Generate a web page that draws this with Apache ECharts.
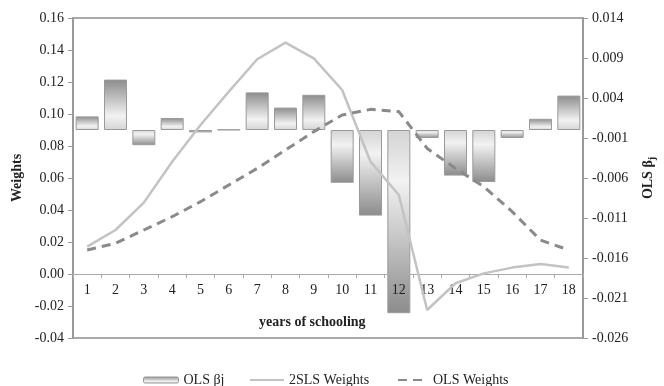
<!DOCTYPE html>
<html>
<head>
<meta charset="utf-8">
<script src="https://cdn.jsdelivr.net/npm/echarts@6/dist/echarts.min.js"></script>
<style>html,body{margin:0;padding:0;background:#fff}#c{width:664px;height:386px}</style>
</head>
<body>
<div id="c"></div>
<script>
var categories = ['1','2','3','4','5','6','7','8','9','10','11','12','13','14','15','16','17','18'];
var olsBeta = [0.0017, 0.0063, -0.0019, 0.0015, -0.0003, 0.00005, 0.0047, 0.0028, 0.0044, -0.0066, -0.0107, -0.0229, -0.0010, -0.0057, -0.0065, -0.0010, 0.0014, 0.0043];
var sls2Weights = [0.0171, 0.0275, 0.0446, 0.0702, 0.0931, 0.114, 0.1342, 0.1446, 0.1348, 0.115, 0.0702, 0.0494, -0.0225, -0.0058, 0.0004, 0.004, 0.0062, 0.004];
var olsWeights = [0.015, 0.0192, 0.0275, 0.0358, 0.0452, 0.0556, 0.066, 0.0775, 0.089, 0.0994, 0.1029, 0.1015, 0.0785, 0.066, 0.0546, 0.039, 0.0212, 0.015];
var leftTicks = {min: -0.04, max: 0.16, interval: 0.02};
var rightTicks = {min: -0.026, max: 0.014, interval: 0.005};

var FONT = 'Liberation Serif';
var chart = echarts.init(document.getElementById('c'), null, {renderer: 'canvas'});

var barData = olsBeta.map(function (v) {
  var pos = v >= 0;
  return {
    value: v,
    itemStyle: {
      color: new echarts.graphic.LinearGradient(0, 0, 0, 1, pos ? [
        {offset: 0, color: '#8c8c8c'},
        {offset: 0.72, color: '#f2f2f2'},
        {offset: 1, color: '#d4d4d4'}
      ] : [
        {offset: 0, color: '#d4d4d4'},
        {offset: 0.28, color: '#f2f2f2'},
        {offset: 1, color: '#8c8c8c'}
      ])
    }
  };
});

var legendText = {fontFamily: FONT, fontSize: 14, color: '#222'};
var noSymbol = {color: 'rgba(0,0,0,0)', borderColor: 'rgba(0,0,0,0)', borderWidth: 0};

chart.setOption({
  animation: false,
  backgroundColor: '#fff',
  grid: {left: 73, right: 81, top: 18, bottom: 48, show: true, borderColor: '#555', borderWidth: 1, outerBoundsMode: 'none', containLabel: false},
  legend: [
    {data: ['OLS βj'], left: 143, top: 373, padding: 0, itemWidth: 35, itemHeight: 6, itemGap: 4, textStyle: legendText,
     itemStyle: {color: new echarts.graphic.LinearGradient(0, 0, 0, 1, [{offset: 0, color: '#8c8c8c'}, {offset: 0.7, color: '#f2f2f2'}, {offset: 1, color: '#d4d4d4'}]), borderColor: '#999', borderWidth: 1}},
    {data: ['2SLS Weights'], left: 249, top: 373, padding: 0, itemWidth: 34, itemHeight: 14, itemGap: 2, textStyle: legendText, itemStyle: noSymbol},
    {data: ['OLS Weights'], left: 397, top: 373, padding: 0, itemWidth: 30, itemHeight: 14, itemGap: 6, textStyle: legendText, itemStyle: noSymbol}
  ],
  graphic: [
    {type: 'text', left: 259, top: 315, style: {text: 'years of schooling', fontFamily: FONT, fontSize: 14, fontWeight: 'bold', fill: '#222'}}
  ],
  xAxis: {
    type: 'category',
    data: categories,
    position: 'bottom',
    offset: -64,
    z: 3,
    axisLine: {onZero: false, lineStyle: {color: '#aaa', width: 1}},
    axisTick: {show: true, length: 4, lineStyle: {color: '#aaa'}},
    axisLabel: {fontFamily: FONT, fontSize: 14, color: '#222', margin: 9}
  },
  yAxis: [
    {
      type: 'value',
      min: leftTicks.min, max: leftTicks.max, interval: leftTicks.interval,
      name: 'Weights', nameLocation: 'middle', nameGap: 45, nameRotate: 90,
      nameTextStyle: {fontFamily: FONT, fontSize: 14, fontWeight: 'bold', color: '#222'},
      axisLine: {show: true, lineStyle: {color: '#999', width: 2}},
      axisTick: {show: true, length: 5, lineStyle: {color: '#999'}},
      axisLabel: {fontFamily: FONT, fontSize: 14, color: '#222', margin: 9, formatter: function (v) { return v.toFixed(2); }},
      splitLine: {show: false}
    },
    {
      type: 'value',
      position: 'right',
      min: rightTicks.min, max: rightTicks.max, interval: rightTicks.interval,
      name: 'OLS β{j|j}', nameLocation: 'middle', nameGap: 56, nameRotate: 90,
      nameTextStyle: {fontFamily: FONT, fontSize: 14, fontWeight: 'bold', color: '#222',
        rich: {j: {fontFamily: FONT, fontSize: 10, fontWeight: 'bold', color: '#222', padding: [8, 0, 0, 0]}}},
      axisLine: {show: true, lineStyle: {color: '#999', width: 2}},
      axisTick: {show: true, length: 5, lineStyle: {color: '#999'}},
      axisLabel: {fontFamily: FONT, fontSize: 14, color: '#222', margin: 9, formatter: function (v) { return v.toFixed(3); }},
      splitLine: {show: false}
    }
  ],
  series: [
    {
      name: 'OLS βj', type: 'bar', yAxisIndex: 1, data: barData, barWidth: 23,
      itemStyle: {borderColor: '#9a9a9a', borderWidth: 1}
    },
    {
      name: '2SLS Weights', type: 'line', yAxisIndex: 0, data: sls2Weights,
      symbol: 'none', showSymbol: false, z: 4,
      lineStyle: {color: '#c3c3c3', width: 2.5}, itemStyle: {color: '#c3c3c3'}
    },
    {
      name: 'OLS Weights', type: 'line', yAxisIndex: 0, data: olsWeights,
      symbol: 'none', showSymbol: false, z: 4,
      lineStyle: {color: '#8a8a8a', width: 3, type: [9, 6]}, itemStyle: {color: '#8a8a8a'}
    }
  ]
});
</script>
</body>
</html>
